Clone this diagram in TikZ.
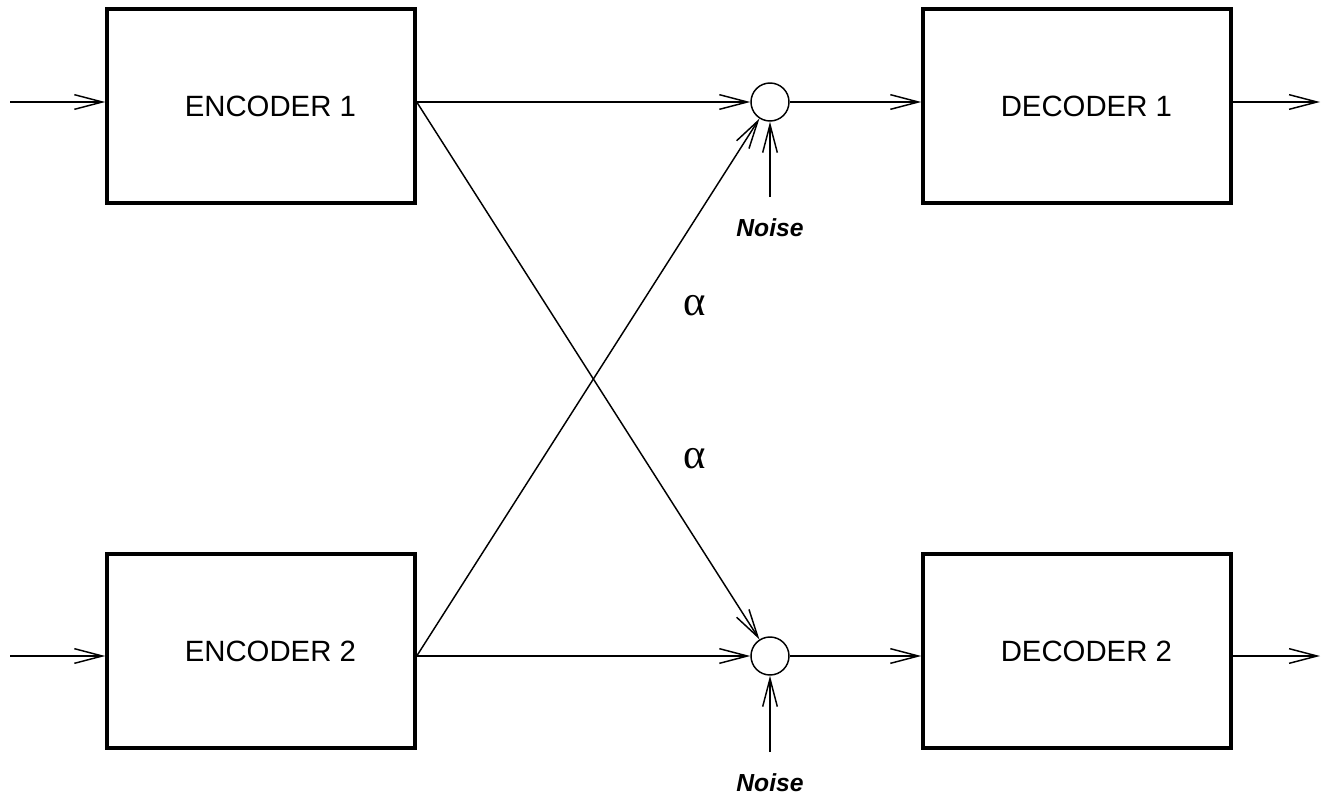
\documentclass[tikz,border=0pt]{standalone}
\usepackage{fontspec}
\setmainfont{Liberation Sans}
\newfontfamily\greekfont{Liberation Serif}
\usetikzlibrary{positioning, arrows.meta}

\begin{document}
\begin{tikzpicture}[x=0.75pt, y=-0.75pt, >={Straight Barb[length=21pt, width=11pt]},
          font=\fontsize{22}{26}\selectfont,
          blk/.style ={draw, line width=2.6pt, minimum width=231pt, minimum height=145.5pt, inner sep=0pt},
          sum/.style ={circle, draw, line width=1.1pt, minimum size=28.5pt, inner sep=0pt},
          sig/.style ={line width=1.1pt, ->},
          nlbl/.style={font=\fontsize{18.5}{22}\selectfont\bfseries\itshape},
          gain/.style={font=\fontsize{32}{36}\greekfont}]
        \useasboundingbox (0,0) rectangle (1321,799);
        % encoders, adders, decoders
        \node[blk] (enc1) at (261,106) {\hspace*{14pt}ENCODER 1};
        \node[blk] (enc2) at (261,651) {\hspace*{14pt}ENCODER 2};
        \node[sum] (sum1) at (770,102) {};
        \node[sum] (sum2) at (770,656) {};
        \node[blk] (dec1) at (1077,106) {\hspace*{14pt}DECODER 1};
        \node[blk] (dec2) at (1077,651) {\hspace*{14pt}DECODER 2};
        \coordinate (in1) at (10,102);   \coordinate (in2) at (10,656);
        \coordinate (out1) at (1320,102); \coordinate (out2) at (1320,656);
        \coordinate (nz1) at (770,197);  \coordinate (nz2) at (770,752);
        \node[nlbl, below=13pt of nz1] (noise1) {Noise};
        \node[nlbl, below=13pt of nz2] (noise2) {Noise};
        \node[gain] (a1) at (695,306) {α};
        \node[gain] (a2) at (695,459) {α};
        % direct paths
        \draw[sig] (in1) -- (enc1.west |- in1);
        \draw[sig] (in2) -- (enc2.west |- in2);
        \draw[sig] (enc1.east |- sum1) -- (sum1);
        \draw[sig] (enc2.east |- sum2) -- (sum2);
        \draw[sig] (sum1) -- (dec1.west |- sum1);
        \draw[sig] (sum2) -- (dec2.west |- sum2);
        \draw[sig] (dec1.east |- sum1) -- (out1);
        \draw[sig] (dec2.east |- sum2) -- (out2);
        % cross paths
        \draw[sig] (enc1.east |- sum1) -- (sum2);
        \draw[sig] (enc2.east |- sum2) -- (sum1);
        % noise
        \draw[sig] (nz1) -- (sum1);
        \draw[sig] (nz2) -- (sum2);
      \end{tikzpicture}
\end{document}
